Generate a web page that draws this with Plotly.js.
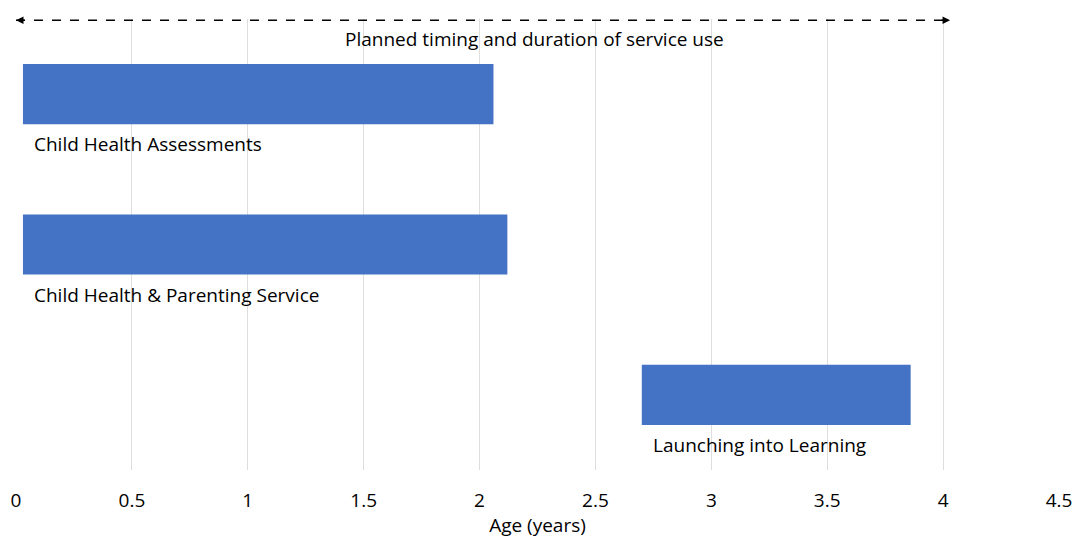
<!DOCTYPE html>
<html>
<head>
<meta charset="utf-8">
<script src="https://cdn.plot.ly/plotly-3.0.1.min.js"></script>
<style>html,body{margin:0;padding:0;background:#fff;}#chart{width:1075px;height:538px;}</style>
</head>
<body>
<div id="chart"></div>
<script>
// Data
const services = ["Child Health Assessments", "Child Health & Parenting Service", "Launching into Learning"];
const startAge = [0.03, 0.03, 2.70];
const endAge = [2.06, 2.12, 3.86];
const xTicks = [0, 0.5, 1, 1.5, 2, 2.5, 3, 3.5, 4, 4.5];
const xTickLabels = ["0", "0.5", "1", "1.5", "2", "2.5", "3", "3.5", "4", "4.5"];
const plannedSpan = [0, 4.03];
const plannedText = "Planned timing and duration of service use";

const FONT = "'Open Sans', sans-serif";
const FS = 19;
const duration = endAge.map((e, i) => e - startAge[i]);

const trace = {
  type: "bar",
  orientation: "h",
  y: services,
  x: duration,
  base: startAge,
  marker: {color: "#4472C4"},
  width: 0.4,
  hoverinfo: "skip"
};

const annotations = services.map((s, i) => ({
  x: startAge[i], y: s, xref: "x", yref: "y",
  text: s, showarrow: false, xanchor: "left", yanchor: "middle",
  xshift: 9, yshift: -50,
  font: {family: FONT, size: FS, color: "#000"}
}));
annotations.push({
  x: 0.4975, y: 1, xref: "paper", yref: "paper",
  text: plannedText, showarrow: false, xanchor: "center", yanchor: "middle",
  yshift: -20, font: {family: FONT, size: FS, color: "#000"}
});
// Arrow heads at both ends of the planned-span line
annotations.push({
  x: plannedSpan[0], y: 0.9975, xref: "x", yref: "paper", text: "",
  showarrow: true, arrowhead: 2, arrowsize: 1, arrowwidth: 1.5, arrowcolor: "#000",
  ax: 10, ay: 0
});
annotations.push({
  x: plannedSpan[1], y: 0.9975, xref: "x", yref: "paper", text: "",
  showarrow: true, arrowhead: 2, arrowsize: 1, arrowwidth: 1.5, arrowcolor: "#000",
  ax: -10, ay: 0
});

const layout = {
  width: 1075, height: 538,
  margin: {l: 16, r: 16, t: 19, b: 68},
  paper_bgcolor: "#fff", plot_bgcolor: "#fff",
  showlegend: false,
  bargap: 0.6,
  font: {family: FONT, size: FS, color: "#000"},
  xaxis: {
    range: [0, 4.5],
    tickvals: xTicks, ticktext: xTickLabels,
    showgrid: true, gridcolor: "#dedede", gridwidth: 1,
    zeroline: false, showline: false, ticks: "",
    tickfont: {family: FONT, size: FS, color: "#000"},
    ticklabelstandoff: 17,
    title: {text: "Age (years)", font: {family: FONT, size: FS, color: "#000"}, standoff: 11}
  },
  yaxis: {
    autorange: "reversed",
    showticklabels: false, showgrid: false, zeroline: false, showline: false, ticks: ""
  },
  shapes: [{
    type: "line", xref: "x", yref: "paper",
    x0: plannedSpan[0], x1: plannedSpan[1], y0: 0.9975, y1: 0.9975,
    line: {color: "#000", width: 1.5, dash: "dash"}
  }],
  annotations: annotations
};

Plotly.newPlot("chart", [trace], layout, {displayModeBar: false, staticPlot: true});
</script>
</body>
</html>
